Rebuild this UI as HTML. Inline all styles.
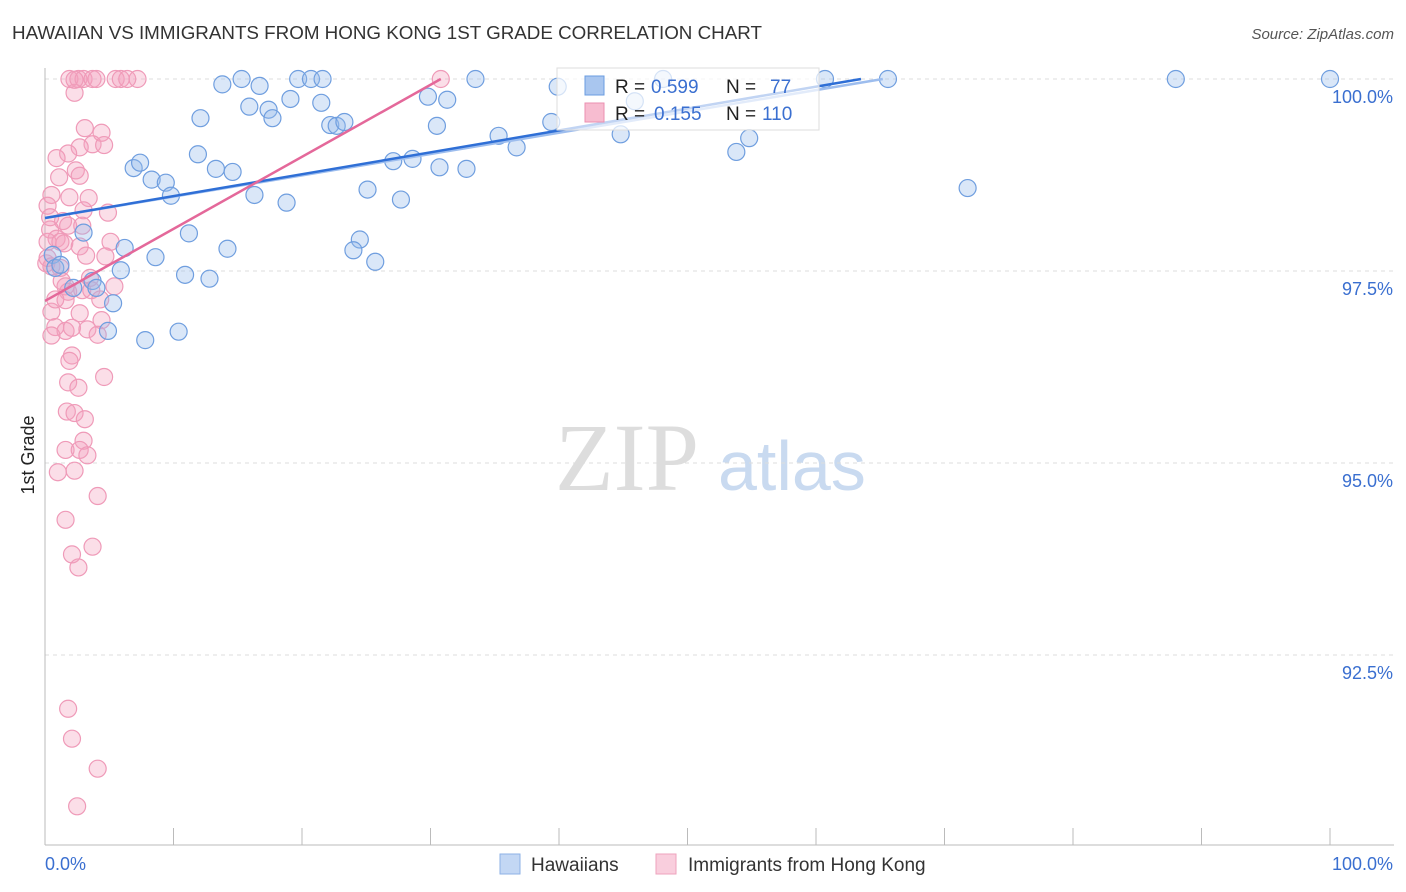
<!DOCTYPE html>
<html><head><meta charset="utf-8"><style>
body{margin:0;background:#fff;font-family:"Liberation Sans",sans-serif;}
</style></head><body>
<svg id="c" width="1406" height="892" style="display:block">
<text x="12" y="39" font-size="18.8" fill="#333">HAWAIIAN VS IMMIGRANTS FROM HONG KONG 1ST GRADE CORRELATION CHART</text>
<text x="1394" y="39" font-size="15" font-style="italic" fill="#555" text-anchor="end">Source: ZipAtlas.com</text>
<text x="34" y="455" font-size="18" fill="#222" transform="rotate(-90 34 455)" text-anchor="middle">1st Grade</text>
<text x="555" y="490" font-size="96" fill="#ddd" font-family="Liberation Serif,serif">ZIP</text>
<text x="718" y="490" font-size="70" fill="#c9daf0">atlas</text>
<g id="grid"></g><g id="pts"></g><g id="lines"></g>
<g>
<rect x="557" y="68" width="262" height="62" fill="rgba(255,255,255,0.7)" stroke="#ddd"/>
<rect x="585" y="76" width="19" height="19" fill="#a9c6ef" stroke="#6a9ce0"/>
<rect x="585" y="103" width="19" height="19" fill="#f7bcd0" stroke="#eb8fb0"/>
<text x="615" y="93" font-size="19" fill="#222">R = </text><text x="651" y="93" font-size="19" fill="#3a6fd0">0.599</text>
<text x="726" y="93" font-size="19" fill="#222">N =</text><text x="770" y="93" font-size="19" fill="#3a6fd0">77</text>
<text x="615" y="120" font-size="19" fill="#222">R = </text><text x="654" y="120" font-size="19" fill="#3a6fd0">0.155</text>
<text x="726" y="120" font-size="19" fill="#222">N =</text><text x="762" y="120" font-size="19" fill="#3a6fd0">110</text>
</g>
<g>
<rect x="500" y="854" width="20" height="20" fill="#c3d7f4" stroke="#8eb2e6"/>
<text x="531" y="871" font-size="19" fill="#333">Hawaiians</text>
<rect x="656" y="854" width="20" height="20" fill="#f9cedd" stroke="#eea3bd"/>
<text x="688" y="871" font-size="19" fill="#333">Immigrants from Hong Kong</text>
</g>
<text x="45" y="870" font-size="18" fill="#3a6fd0">0.0%</text>
<text x="1393" y="870" font-size="18" fill="#3a6fd0" text-anchor="end">100.0%</text>
</svg>
<script>
const yTicks=[100,97.5,95,92.5];
const yTickLabels=["100.0%","97.5%","95.0%","92.5%"];
const blueX=[13.8,15.3,16.7,19.7,20.7,21.6,33.5,39.9,48.1,60.7,65.6,88,100,12.1,15.9,17.4,17.7,19.1,21.5,22.2,22.7,23.3,29.8,31.3,30.5,35.3,36.7,39.4,44.8,53.8,54.8,45.9,6.9,7.4,8.3,9.4,9.8,11.9,13.3,14.6,16.3,18.8,25.1,27.7,27.1,28.6,30.7,32.8,71.8,11.2,14.2,8.6,6.2,5.9,3,0.6,0.8,3.7,10.9,12.8,5.3,4.9,7.8,10.4,24.5,24,25.7,4,2.2,1.2];
const blueY=[99.93,100,99.91,100,100,100,100,99.9,100,100,100,100,100,99.49,99.64,99.6,99.49,99.74,99.69,99.4,99.39,99.44,99.77,99.73,99.39,99.26,99.11,99.44,99.28,99.05,99.23,99.71,98.84,98.91,98.69,98.65,98.48,99.02,98.83,98.79,98.49,98.39,98.56,98.43,98.93,98.96,98.85,98.83,98.58,97.99,97.79,97.68,97.8,97.51,98.0,97.71,97.54,97.37,97.45,97.4,97.08,96.72,96.6,96.71,97.91,97.77,97.62,97.28,97.28,97.58];
const pinkX=[1.9,2.6,3,3.7,4,5.5,5.9,6.4,7.2,2.3,2.3,3.1,4.4,3.7,4.6,2.7,1.8,0.9,2.4,1.1,2.7,0.5,1.9,3.4,4.9,3,0.2,1.4,1.8,2.9,0.4,0.9,0.2,1.2,1.5,5.1,2.7,3.2,4.7,0.1,0.5,1.2,3.5,5.4,1.6,1.8,2.9,3.6,1.6,2.7,0.5,4.4,0.8,1.6,2.1,3.3,4.1,0.5,2.1,1.9,4.6,1.8,2.6,1.7,2.3,3.1,3,1.6,2.7,3.3,1,2.3,4.1,1.6,3.7,2.1,2.6,1.8,2.1,4.1,2.5,30.8,0.4,0.2,0.8,1.3,4.3];
const pinkY=[100,100,100,100,100,100,100,100,100,99.82,99.99,99.36,99.3,99.15,99.14,99.11,99.03,98.97,98.81,98.72,98.74,98.49,98.46,98.45,98.26,98.29,98.35,98.15,98.09,98.09,98.04,97.92,97.88,97.88,97.86,97.88,97.82,97.7,97.69,97.6,97.56,97.54,97.41,97.3,97.3,97.23,97.25,97.25,97.12,96.95,96.97,96.86,96.77,96.72,96.76,96.74,96.67,96.66,96.4,96.33,96.12,96.05,95.98,95.67,95.65,95.57,95.29,95.17,95.17,95.1,94.88,94.9,94.57,94.26,93.91,93.81,93.64,91.8,91.41,91.02,90.53,100,98.2,97.67,97.13,97.37,97.13];
const blueLine=[[0,98.19],[63.5,100]];
const blueLineExt=[[0,98.19],[65.2,100]];
const pinkLine=[[0,97.11],[30.8,100]];
const X=v=>45+v*12.85, Y=v=>79+(100-v)*76.8;
const ns="http://www.w3.org/2000/svg";
function mk(t,a,p){const e=document.createElementNS(ns,t);for(const k in a)e.setAttribute(k,a[k]);p.appendChild(e);return e;}
const g=document.getElementById('grid');
yTicks.forEach((t,i)=>{
 const l=mk('line',{x1:45,x2:1394,y1:Y(t),y2:Y(t),stroke:'#ddd','stroke-dasharray':'4,4'},g);
 
 
 const tx=mk('text',{x:1393,y:Y(t)+24,'font-size':18,fill:'#3a6fd0','text-anchor':'end'},g);
 tx.textContent=yTickLabels[i];
 
 
});
mk('line',{x1:45,x2:45,y1:68,y2:845,stroke:'#bbb'},g);
mk('line',{x1:45,x2:1394,y1:845,y2:845,stroke:'#bbb'},g);
for(let i=0;i<=10;i++){mk('line',{x1:X(i*10),x2:X(i*10),y1:828,y2:845,stroke:'#bbb'},g);}
const P=document.getElementById('pts');
pinkX.forEach((x,i)=>{const c=mk('circle',{cx:X(x),cy:Y(pinkY[i]),r:8.5,fill:'rgba(244,160,190,0.35)',stroke:'#ef9ab8','stroke-width':1.2},P);

});
blueX.forEach((x,i)=>{const c=mk('circle',{cx:X(x),cy:Y(blueY[i]),r:8.5,fill:'rgba(150,185,235,0.35)',stroke:'#6f9edf','stroke-width':1.2},P);

});
const L=document.getElementById('lines');
const be=mk('line',{x1:X(blueLineExt[0][0]),y1:Y(blueLineExt[0][1]),x2:X(blueLineExt[1][0]),y2:Y(blueLineExt[1][1]),stroke:'#9dbdee','stroke-width':2.5},L);


const bl=mk('line',{x1:X(blueLine[0][0]),y1:Y(blueLine[0][1]),x2:X(blueLine[1][0]),y2:Y(blueLine[1][1]),stroke:'#2f6fd6','stroke-width':2.5},L);


const pl=mk('line',{x1:X(pinkLine[0][0]),y1:Y(pinkLine[0][1]),x2:X(pinkLine[1][0]),y2:Y(pinkLine[1][1]),stroke:'#e4689a','stroke-width':2.5},L);


</script>
</body></html>
